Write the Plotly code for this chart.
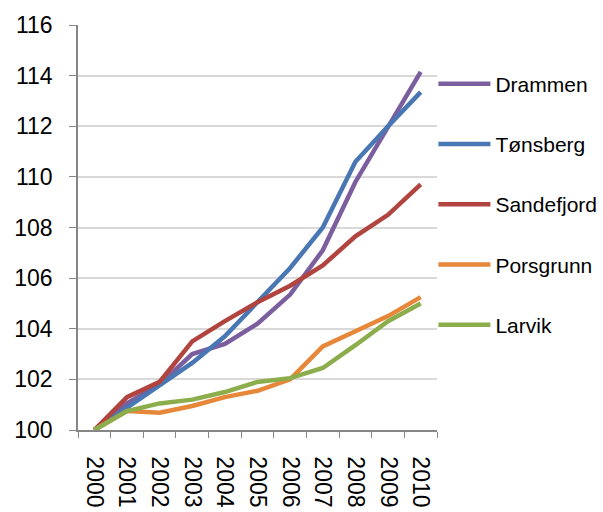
import plotly.graph_objects as go

years = ["2000", "2001", "2002", "2003", "2004", "2005", "2006", "2007", "2008", "2009", "2010"]
drammen = [100, 101.05, 101.8, 103.0, 103.4, 104.2, 105.35, 107.1, 109.8, 112.0, 114.15]
tonsberg = [100, 100.9, 101.8, 102.65, 103.7, 105.05, 106.4, 108.0, 110.6, 112.0, 113.35]
sandefjord = [100, 101.3, 101.9, 103.5, 104.3, 105.05, 105.7, 106.5, 107.65, 108.5, 109.7]
porsgrunn = [100, 100.75, 100.68, 100.95, 101.3, 101.55, 102.0, 103.3, 103.9, 104.5, 105.25]
larvik = [100, 100.75, 101.05, 101.2, 101.5, 101.9, 102.05, 102.45, 103.35, 104.3, 105.0]

series = [
    ("Drammen", drammen, "#7A5E9E"),
    ("Tønsberg", tonsberg, "#4877B4"),
    ("Sandefjord", sandefjord, "#B1443F"),
    ("Porsgrunn", porsgrunn, "#E6873A"),
    ("Larvik", larvik, "#8CAD4C"),
]

FONT = "Liberation Sans, Arial, sans-serif"

fig = go.Figure()
for i, (name, vals, col) in enumerate(series):
    fig.add_trace(go.Scatter(
        x=years, y=vals, name=name, mode="lines",
        line=dict(color=col, width=4.5),
        legendgroup=str(i),
    ))

fig.update_layout(
    width=603, height=512,
    margin=dict(l=78, r=166, t=25, b=82, autoexpand=False),
    paper_bgcolor="white", plot_bgcolor="white",
    font=dict(family=FONT, size=21, color="black"),
    showlegend=True,
    legend=dict(
        x=0.99, xanchor="left", y=0.905, yanchor="top",
        font=dict(size=21, family=FONT, color="black"),
        tracegroupgap=30, itemwidth=52,
        bgcolor="rgba(0,0,0,0)",
    ),
    xaxis=dict(
        type="category", range=[-0.5, 10.5],
        tickson="boundaries", ticks="outside", ticklen=6, tickcolor="#868686",
        showline=True, linecolor="#868686", linewidth=1.5,
        showgrid=False, tickangle=90, automargin=False,
        ticklabelstandoff=20,
        tickfont=dict(size=23, family=FONT, color="black"),
    ),
    yaxis=dict(
        range=[100, 116], dtick=2, tick0=100,
        ticks="outside", ticklen=7, tickcolor="#868686",
        showline=True, linecolor="#868686", linewidth=1.5,
        showgrid=True, gridcolor="#D9D9D9", gridwidth=1.5,
        zeroline=False, automargin=False,
        ticklabelstandoff=12,
        tickfont=dict(size=23, family=FONT, color="black"),
    ),
)

fig.write_html("out.html", config={"displayModeBar": False},
               post_script="document.body.style.margin='0';")
